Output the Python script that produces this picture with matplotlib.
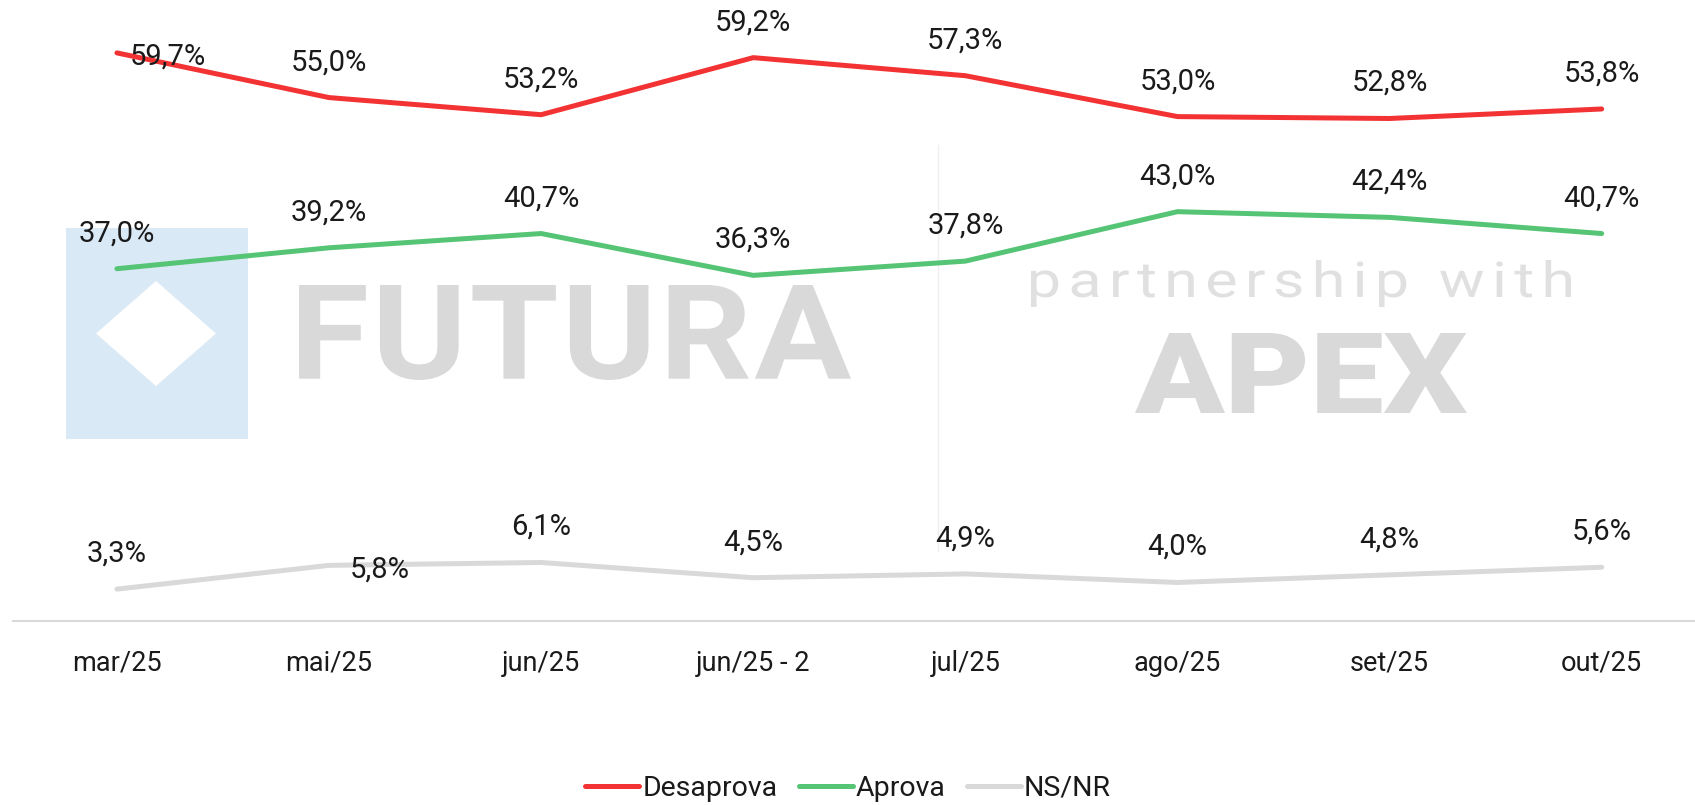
import matplotlib
matplotlib.use("Agg")
import matplotlib.pyplot as plt
from matplotlib.textpath import TextPath, text_to_path
from matplotlib.font_manager import FontProperties
from matplotlib.path import Path
from matplotlib.patches import PathPatch, Rectangle, Polygon
from matplotlib.transforms import Affine2D
from matplotlib.lines import Line2D
import numpy as np

# ---------------- data ----------------
categories = ['mar/25', 'mai/25', 'jun/25', 'jun/25 - 2', 'jul/25', 'ago/25', 'set/25', 'out/25']
desaprova = [59.7, 55.0, 53.2, 59.2, 57.3, 53.0, 52.8, 53.8]
aprova = [37.0, 39.2, 40.7, 36.3, 37.8, 43.0, 42.4, 40.7]
nsnr = [3.3, 5.8, 6.1, 4.5, 4.9, 4.0, 4.8, 5.6]
series_names = ['Desaprova', 'Aprova', 'NS/NR']

# ---------------- style ----------------
W, H = 1695, 805
DPI = 100
colors = {'Desaprova': '#F33333', 'Aprova': '#55C475', 'NS/NR': '#D9D9D9'}
label_right = {('Desaprova', 0), ('NS/NR', 1)}
FONT = 'Roboto'

plt.rcParams['font.family'] = [FONT, 'DejaVu Sans']

fig = plt.figure(figsize=(W / DPI, H / DPI), dpi=DPI)


def fx(x):
    return x / W


def fy(y):
    return 1 - y / H


# ---------------- watermark (figure coords, behind axes) ----------------
def text_box(text, x0, y0, x1, y1, color, weight='bold', family=FONT, tracking=0.0):
    prop = FontProperties(family=family, weight=weight)
    size = 100
    paths = []
    for i, ch in enumerate(text):
        if ch == ' ':
            continue
        if i > 0:
            w, _, _ = text_to_path.get_text_width_height_descent(text[:i], prop, ismath=False)
            w = w * size / prop.get_size_in_points()
        else:
            w = 0
        p = TextPath((w + i * tracking * size, 0), ch, size=size, prop=prop)
        paths.append(p)
    cp = Path.make_compound_path(*paths)
    ext = cp.get_extents()
    sx = (fx(x1) - fx(x0)) / ext.width
    sy = (fy(y0) - fy(y1)) / ext.height
    tr = Affine2D().translate(-ext.x0, -ext.y0).scale(sx, sy).translate(fx(x0), fy(y1))
    cp = tr.transform_path(cp)
    patch = PathPatch(cp, facecolor=color, edgecolor='none', transform=fig.transFigure, zorder=-10)
    fig.add_artist(patch)


fig.add_artist(Rectangle((fx(66), fy(439)), fx(248) - fx(66), fy(228) - fy(439),
                         facecolor='#DAE9F6', edgecolor='none', transform=fig.transFigure, zorder=-10))
fig.add_artist(Polygon([(fx(156), fy(281)), (fx(216), fy(333.5)), (fx(156), fy(386)), (fx(96), fy(333.5))],
                       closed=True, facecolor='white', edgecolor='none', transform=fig.transFigure, zorder=-9))
text_box('FUTURA', 299, 285, 851, 380, '#D9D9D9', weight='bold', tracking=0.02)
text_box('partnership with', 1031, 260, 1571, 307, '#E0E0E0', weight='normal', tracking=0.12)
text_box('APEX', 1135, 333, 1467, 413, '#D9D9D9', weight='black')
fig.add_artist(Line2D([fx(938), fx(938)], [fy(145), fy(551)], color='#EFEFEF', lw=1.0,
                      transform=fig.transFigure, zorder=-10))

# ---------------- axes ----------------
ax = fig.add_axes([fx(13), fy(620.5), fx(1695) - fx(13), fy(2.5) - fy(620.5)])
ax.set_facecolor('none')
x = np.arange(len(categories))
ax.set_xlim(-0.49, 7.44)
ax.set_ylim(0, 65)

data = {'Desaprova': desaprova, 'Aprova': aprova, 'NS/NR': nsnr}
handles = []
for name in series_names:
    vals = data[name]
    ln, = ax.plot(x, vals, color=colors[name], lw=3.6, solid_capstyle='round',
                  solid_joinstyle='round', label=name, zorder=3, clip_on=False)
    handles.append(ln)
    for i, v in enumerate(vals):
        txt = f"{v:.1f}%".replace('.', ',')
        if (name, i) in label_right:
            off = (36.5, -2.9)
        else:
            off = (0, 25.5)
        ax.annotate(txt, (x[i], v), xytext=off, textcoords='offset points',
                    ha='center', va='center', fontsize=21, color='#1a1a1a', zorder=5)

for s in ['top', 'right', 'left']:
    ax.spines[s].set_visible(False)
ax.spines['bottom'].set_color('#D9D9D9')
ax.spines['bottom'].set_linewidth(1.5)
ax.set_yticks([])
ax.set_xticks(x)
ax.set_xticklabels(categories, fontsize=19.5, color='#1a1a1a')
ax.tick_params(axis='x', length=0, pad=21)

leg = fig.legend(handles=handles, loc='center', bbox_to_anchor=(fx(848), fy(788)), ncol=3,
                 frameon=False, fontsize=20.5, handlelength=1.9, handletextpad=0.1,
                 columnspacing=0.75)
for t in leg.get_texts():
    t.set_color('#1a1a1a')

fig.savefig('out.png', dpi=DPI)
